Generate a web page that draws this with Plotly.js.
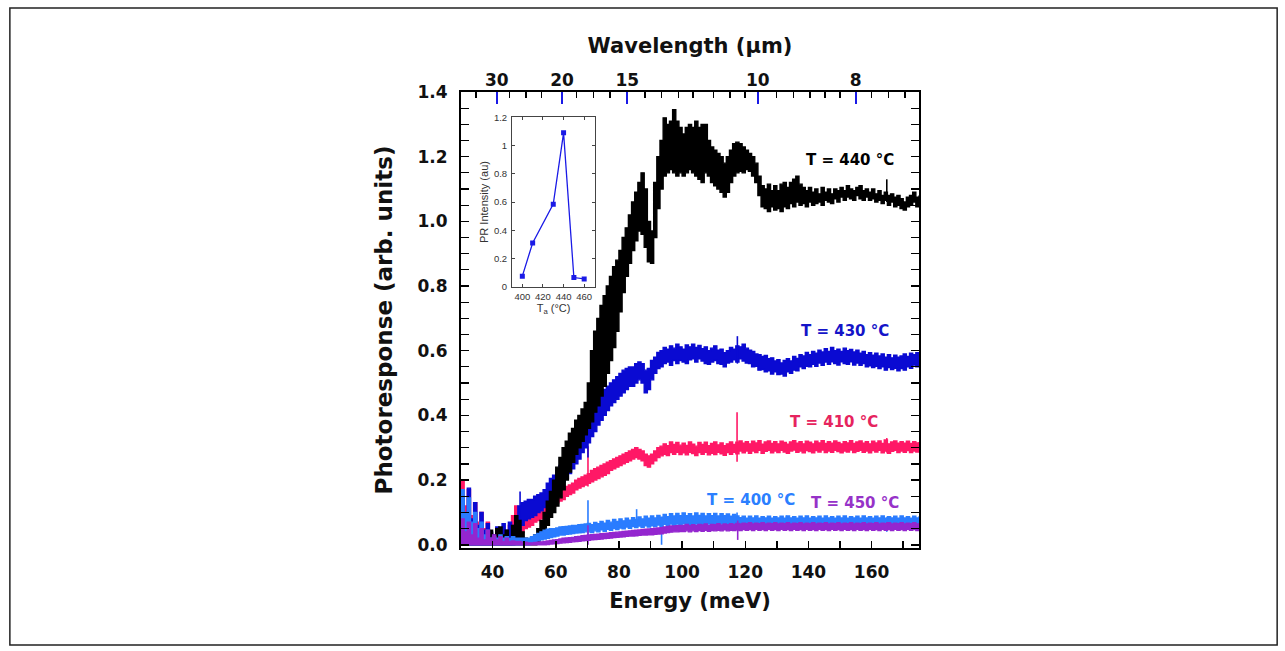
<!DOCTYPE html>
<html>
<head>
<meta charset="utf-8">
<script src="https://cdn.plot.ly/plotly-3.0.1.min.js"></script>
<style>
  html, body { margin: 0; padding: 0; background: #ffffff; }
  #chart { width: 1285px; height: 651px; }
</style>
</head>
<body>
<div id="chart"></div>
<script>
// Photon energy grid (meV), 1 meV steps
const energyStart = 30, energyEnd = 175;
const energy = [];
for (let e = energyStart; e <= energyEnd; e++) energy.push(e);

// Each spectrum is a noisy trace: lower and upper envelope of the noise band

// T = 440 °C
const blackLo = [
  0,0,0,0,0,0,0,0,0,0,
  0,0,0,0,0,0,0,0,0,0,
  0,0,0,0,0.01,0.025,0.04,0.06,0.085,0.1,
  0.12,0.145,0.17,0.2,0.225,0.255,0.28,0.3,0.32,0.34,
  0.36,0.38,0.41,0.43,0.46,0.49,0.53,0.57,0.61,0.66,
  0.72,0.78,0.83,0.87,0.91,0.94,0.97,0.96,0.92,0.875,
  0.87,0.95,1.04,1.1,1.14,1.15,1.16,1.15,1.14,1.15,
  1.14,1.15,1.16,1.15,1.14,1.13,1.12,1.15,1.14,1.12,
  1.11,1.1,1.09,1.075,1.09,1.12,1.14,1.15,1.155,1.15,
  1.16,1.155,1.14,1.12,1.08,1.045,1.04,1.03,1.045,1.035,
  1.04,1.03,1.045,1.04,1.055,1.045,1.06,1.05,1.055,1.045,
  1.06,1.05,1.055,1.06,1.05,1.065,1.06,1.055,1.07,1.06,
  1.075,1.065,1.075,1.07,1.065,1.08,1.07,1.065,1.075,1.065,
  1.07,1.06,1.065,1.055,1.065,1.05,1.06,1.045,1.05,1.04,
  1.035,1.045,1.05,1.06,1.045,1.05
];
const blackHi = [
  0.02,0.03,0.015,0.03,0.02,0.025,0.03,0.02,0.03,0.045,
  0.02,0.05,0.055,0.03,0.045,0.02,0.06,0.09,0.075,0.04,
  0.02,0.015,0.01,0.03,0.05,0.075,0.1,0.135,0.165,0.2,
  0.24,0.27,0.3,0.32,0.345,0.36,0.385,0.4,0.42,0.44,
  0.5,0.6,0.66,0.7,0.74,0.77,0.8,0.83,0.86,0.88,
  0.91,0.95,0.98,1.02,1.06,1.09,1.12,1.15,1.1,1.0,
  0.97,1.12,1.2,1.25,1.32,1.3,1.31,1.345,1.31,1.29,
  1.27,1.29,1.3,1.29,1.31,1.29,1.3,1.3,1.25,1.23,
  1.22,1.21,1.2,1.18,1.2,1.22,1.24,1.245,1.24,1.23,
  1.22,1.21,1.2,1.18,1.14,1.11,1.1,1.115,1.095,1.11,
  1.095,1.115,1.12,1.105,1.12,1.13,1.14,1.115,1.105,1.095,
  1.105,1.09,1.1,1.085,1.105,1.09,1.1,1.085,1.1,1.095,
  1.105,1.095,1.11,1.1,1.095,1.105,1.11,1.095,1.1,1.09,
  1.1,1.085,1.095,1.08,1.09,1.08,1.085,1.075,1.08,1.07,
  1.06,1.075,1.08,1.09,1.075,1.08
];

// T = 430 °C
const blueLo = [
  0,0,0,0,0,0,0,0,0,0,
  0,0,0,0,0,0,0,0.01,0.03,0.06,
  0.075,0.08,0.085,0.09,0.1,0.105,0.115,0.125,0.14,0.155,
  0.17,0.18,0.195,0.205,0.22,0.235,0.25,0.265,0.285,0.3,
  0.315,0.335,0.35,0.37,0.385,0.4,0.415,0.43,0.44,0.45,
  0.46,0.47,0.48,0.49,0.49,0.5,0.51,0.5,0.47,0.48,
  0.51,0.53,0.545,0.55,0.56,0.565,0.555,0.57,0.56,0.57,
  0.565,0.56,0.572,0.575,0.565,0.575,0.568,0.56,0.558,0.565,
  0.57,0.56,0.558,0.55,0.562,0.565,0.572,0.565,0.575,0.568,
  0.562,0.56,0.55,0.552,0.54,0.542,0.535,0.538,0.528,0.535,
  0.526,0.528,0.522,0.535,0.53,0.54,0.538,0.55,0.545,0.552,
  0.55,0.558,0.552,0.562,0.555,0.565,0.558,0.566,0.56,0.556,
  0.566,0.56,0.558,0.566,0.556,0.562,0.555,0.56,0.55,0.553,
  0.548,0.552,0.545,0.55,0.54,0.548,0.542,0.546,0.538,0.545,
  0.54,0.55,0.546,0.556,0.55,0.556
];
const blueHi = [
  0.15,0.09,0.175,0.08,0.13,0.06,0.1,0.045,0.065,0.04,
  0.03,0.055,0.035,0.065,0.045,0.07,0.06,0.09,0.12,0.13,
  0.135,0.14,0.14,0.15,0.155,0.16,0.17,0.19,0.205,0.215,
  0.23,0.245,0.26,0.275,0.29,0.305,0.32,0.335,0.35,0.365,
  0.385,0.4,0.42,0.44,0.465,0.48,0.49,0.5,0.51,0.52,
  0.53,0.54,0.545,0.55,0.55,0.56,0.565,0.56,0.54,0.545,
  0.57,0.58,0.595,0.6,0.61,0.605,0.615,0.608,0.62,0.612,
  0.605,0.618,0.612,0.62,0.61,0.616,0.606,0.612,0.6,0.608,
  0.615,0.602,0.605,0.594,0.6,0.61,0.605,0.615,0.612,0.62,
  0.608,0.602,0.598,0.59,0.588,0.582,0.585,0.575,0.578,0.568,
  0.572,0.562,0.57,0.575,0.568,0.582,0.576,0.588,0.584,0.595,
  0.588,0.598,0.592,0.602,0.596,0.606,0.598,0.61,0.6,0.605,
  0.598,0.608,0.6,0.604,0.596,0.602,0.592,0.598,0.588,0.594,
  0.586,0.592,0.584,0.59,0.58,0.588,0.578,0.586,0.58,0.584,
  0.59,0.582,0.592,0.588,0.594,0.59
];

// T = 410 °C
const pinkLo = [
  0,0,0,0,0,0,0,0,0,0,
  0,0,0,0,0,0,0.01,0.02,0.03,0.04,
  0.05,0.055,0.06,0.07,0.075,0.08,0.09,0.1,0.11,0.12,
  0.13,0.135,0.14,0.15,0.155,0.16,0.17,0.175,0.18,0.185,
  0.19,0.195,0.2,0.205,0.21,0.215,0.22,0.23,0.235,0.24,
  0.245,0.25,0.255,0.26,0.265,0.27,0.265,0.26,0.245,0.24,
  0.25,0.26,0.27,0.275,0.28,0.276,0.285,0.28,0.286,0.279,
  0.284,0.278,0.286,0.282,0.276,0.285,0.28,0.286,0.278,0.283,
  0.279,0.286,0.281,0.277,0.285,0.28,0.286,0.281,0.29,0.284,
  0.29,0.283,0.29,0.285,0.292,0.283,0.289,0.292,0.284,0.29,
  0.285,0.292,0.287,0.283,0.29,0.293,0.286,0.29,0.284,0.291,
  0.288,0.284,0.291,0.287,0.293,0.285,0.29,0.286,0.292,0.288,
  0.284,0.29,0.287,0.293,0.285,0.289,0.292,0.286,0.29,0.284,
  0.291,0.287,0.292,0.284,0.29,0.283,0.289,0.292,0.285,0.29,
  0.286,0.291,0.285,0.29,0.287,0.289
];
const pinkHi = [
  0.2,0.12,0.17,0.09,0.13,0.07,0.1,0.05,0.07,0.035,
  0.03,0.045,0.03,0.045,0.04,0.06,0.09,0.12,0.1,0.09,
  0.1,0.1,0.1,0.105,0.11,0.115,0.125,0.135,0.145,0.15,
  0.16,0.17,0.175,0.18,0.185,0.19,0.2,0.205,0.21,0.215,
  0.22,0.23,0.235,0.24,0.245,0.25,0.255,0.26,0.265,0.27,
  0.275,0.28,0.285,0.29,0.295,0.3,0.295,0.29,0.28,0.275,
  0.28,0.29,0.3,0.305,0.312,0.306,0.318,0.31,0.316,0.308,
  0.314,0.307,0.318,0.311,0.305,0.316,0.31,0.317,0.306,0.313,
  0.318,0.309,0.315,0.306,0.312,0.318,0.31,0.317,0.321,0.314,
  0.319,0.312,0.32,0.315,0.322,0.311,0.318,0.321,0.313,0.319,
  0.312,0.32,0.316,0.311,0.318,0.322,0.314,0.319,0.312,0.32,
  0.317,0.312,0.32,0.315,0.322,0.313,0.319,0.314,0.321,0.316,
  0.312,0.319,0.315,0.322,0.313,0.318,0.321,0.314,0.319,0.312,
  0.32,0.315,0.321,0.313,0.324,0.312,0.318,0.321,0.314,0.319,
  0.314,0.32,0.313,0.319,0.315,0.318
];

// T = 400 °C
const lightBlueLo = [
  0,0,0,0,0,0,0,0,0,0,
  0,0,0,0,0,0,0,0,0,0,
  0,0,0.005,0.01,0.012,0.015,0.018,0.02,0.022,0.025,
  0.027,0.03,0.03,0.032,0.033,0.035,0.036,0.037,0.038,0.04,
  0.04,0.038,0.043,0.04,0.046,0.042,0.048,0.045,0.05,0.047,
  0.052,0.049,0.055,0.051,0.056,0.053,0.058,0.054,0.059,0.055,
  0.059,0.056,0.061,0.057,0.063,0.059,0.064,0.06,0.064,0.059,
  0.065,0.06,0.063,0.058,0.064,0.06,0.063,0.058,0.064,0.06,
  0.063,0.058,0.064,0.06,0.062,0.057,0.063,0.058,0.056,0.059,
  0.054,0.059,0.055,0.06,0.054,0.058,0.055,0.06,0.055,0.058,
  0.054,0.059,0.055,0.06,0.054,0.058,0.055,0.059,0.054,0.06,
  0.055,0.058,0.054,0.06,0.055,0.059,0.054,0.058,0.055,0.06,
  0.054,0.059,0.055,0.058,0.054,0.06,0.055,0.059,0.054,0.058,
  0.055,0.06,0.054,0.059,0.055,0.058,0.054,0.06,0.055,0.059,
  0.054,0.058,0.055,0.06,0.054,0.059
];
const lightBlueHi = [
  0.17,0.1,0.145,0.07,0.1,0.05,0.07,0.03,0.045,0.02,
  0.025,0.02,0.03,0.02,0.025,0.02,0.025,0.02,0.02,0.02,
  0.02,0.02,0.025,0.03,0.035,0.04,0.045,0.048,0.05,0.05,
  0.052,0.055,0.056,0.057,0.058,0.06,0.06,0.062,0.063,0.064,
  0.066,0.062,0.069,0.065,0.072,0.067,0.075,0.07,0.078,0.072,
  0.08,0.074,0.082,0.076,0.084,0.078,0.086,0.08,0.088,0.082,
  0.089,0.083,0.091,0.085,0.094,0.087,0.096,0.089,0.097,0.09,
  0.098,0.09,0.096,0.089,0.098,0.091,0.097,0.089,0.096,0.09,
  0.097,0.089,0.096,0.09,0.095,0.088,0.094,0.089,0.084,0.088,
  0.082,0.088,0.083,0.089,0.082,0.087,0.083,0.088,0.082,0.087,
  0.083,0.088,0.082,0.089,0.083,0.087,0.082,0.088,0.083,0.089,
  0.082,0.087,0.083,0.088,0.082,0.089,0.083,0.087,0.082,0.088,
  0.083,0.089,0.082,0.087,0.083,0.088,0.082,0.089,0.083,0.087,
  0.082,0.088,0.083,0.089,0.082,0.087,0.083,0.088,0.082,0.089,
  0.083,0.087,0.082,0.088,0.083,0.088
];

// T = 450 °C
const purpleLo = [
  0,0,0,0,0,0,0,0,0,0,
  0,0,0,0,0,0,0,0,0,0,
  0,0,0,0,0,0,0,0.001,0.002,0.003,
  0.004,0.005,0.006,0.007,0.008,0.009,0.01,0.011,0.012,0.013,
  0.014,0.015,0.016,0.017,0.018,0.019,0.02,0.021,0.022,0.023,
  0.024,0.025,0.026,0.027,0.027,0.028,0.029,0.03,0.03,0.031,
  0.031,0.032,0.033,0.034,0.036,0.038,0.039,0.04,0.04,0.041,
  0.041,0.043,0.04,0.043,0.041,0.044,0.042,0.045,0.042,0.044,
  0.043,0.045,0.043,0.046,0.043,0.045,0.044,0.046,0.044,0.047,
  0.045,0.047,0.044,0.048,0.045,0.047,0.044,0.048,0.045,0.047,
  0.044,0.048,0.045,0.047,0.044,0.048,0.045,0.047,0.044,0.048,
  0.045,0.047,0.044,0.048,0.045,0.047,0.044,0.048,0.045,0.047,
  0.044,0.048,0.045,0.047,0.044,0.048,0.045,0.047,0.044,0.048,
  0.045,0.047,0.044,0.048,0.045,0.047,0.044,0.048,0.045,0.047,
  0.044,0.048,0.045,0.047,0.044,0.047
];
const purpleHi = [
  0.08,0.04,0.07,0.03,0.065,0.02,0.05,0.015,0.045,0.02,
  0.03,0.015,0.025,0.01,0.02,0.01,0.012,0.01,0.01,0.008,
  0.008,0.006,0.006,0.007,0.008,0.009,0.01,0.012,0.013,0.015,
  0.016,0.018,0.02,0.021,0.022,0.023,0.025,0.026,0.028,0.029,
  0.03,0.031,0.032,0.033,0.034,0.035,0.036,0.037,0.038,0.039,
  0.04,0.041,0.042,0.043,0.044,0.045,0.046,0.047,0.048,0.049,
  0.05,0.051,0.052,0.053,0.055,0.057,0.058,0.058,0.059,0.06,
  0.06,0.063,0.059,0.062,0.06,0.063,0.061,0.064,0.06,0.063,
  0.062,0.065,0.061,0.064,0.062,0.065,0.063,0.066,0.064,0.067,
  0.065,0.068,0.064,0.067,0.065,0.068,0.064,0.067,0.065,0.068,
  0.064,0.067,0.065,0.068,0.064,0.067,0.065,0.068,0.064,0.067,
  0.065,0.068,0.064,0.067,0.065,0.068,0.064,0.067,0.065,0.068,
  0.064,0.067,0.065,0.068,0.064,0.067,0.065,0.068,0.064,0.067,
  0.065,0.068,0.064,0.067,0.065,0.068,0.064,0.067,0.065,0.068,
  0.064,0.067,0.065,0.068,0.064,0.067
];

// Sharp glitches: energy, lowest and highest excursion
const blackSpikeE = [164.8],                 blackSpikeLo = [1.06],              blackSpikeHi = [1.13];
const blueSpikeE = [48.7, 70.2, 117.5],      blueSpikeLo = [0.05, 0.27, 0.56],   blueSpikeHi = [0.165, 0.4, 0.645];
const pinkSpikeE = [47.2, 70.2, 117.4, 164.8], pinkSpikeLo = [0, 0.18, 0.257, 0.285], pinkSpikeHi = [0.12, 0.305, 0.41, 0.33];
const lightBlueSpikeE = [70.2, 85.6, 93.5, 117.4, 133, 164.8];
const lightBlueSpikeLo = [0.02, 0.06, 0.0, 0.05, 0.05, 0.04];
const lightBlueSpikeHi = [0.138, 0.11, 0.07, 0.1, 0.09, 0.085];
const purpleSpikeE = [70.2, 117.6, 164.8],   purpleSpikeLo = [0, 0.015, 0.045],  purpleSpikeHi = [0.06, 0.075, 0.07];

// Curve labels: text, position (meV, arb. units)
const labelText = ['T = 440 °C', 'T = 430 °C', 'T = 410 °C', 'T = 400 °C', 'T = 450 °C'];
const labelE = [153.1, 151.6, 148.1, 121.8, 154.7];
const labelV = [1.19, 0.661, 0.38, 0.138, 0.129];

// Wavelength axis (µm) and the extra unlabeled ticks on the top edge (meV)
const wavelengthTicks = [30, 20, 15, 10, 8];
const topMinorTicks = [34.7, 45.3, 50.6, 55.5, 66.6, 71.9, 77.2, 88.2, 93.5, 98.8, 103.5, 109.9, 115.2, 119.9, 129.9, 135.2, 140.5, 145.2, 150, 160, 165.3, 170.6];

// Inset: peak photoresponse versus annealing temperature
const annealT = [400, 410, 430, 440, 450, 460];
const prIntensity = [0.075, 0.31, 0.585, 1.09, 0.065, 0.055];

// ---------- drawing ----------
const FONT = 'DejaVu Sans';
const C_BLACK = '#000000', C_BLUE = '#0a0ad2', C_PINK = '#ff1866', C_LBLUE = '#2a7cff', C_PURPLE = '#9426cf';

function band(lo, hi, color) {
  const ln = { color: color, width: 1.4, shape: 'hv' };
  return [
    { x: energy, y: lo, type: 'scatter', mode: 'lines', line: ln, hoverinfo: 'skip', showlegend: false },
    { x: energy, y: hi, type: 'scatter', mode: 'lines', line: ln, fill: 'tonexty', fillcolor: color, hoverinfo: 'skip', showlegend: false }
  ];
}
function spikes(es, los, his, color) {
  const x = [], y = [];
  es.forEach((e, i) => { x.push(e, e, null); y.push(los[i], his[i], null); });
  return { x: x, y: y, type: 'scatter', mode: 'lines', line: { color: color, width: 1.6 }, hoverinfo: 'skip', showlegend: false, connectgaps: false };
}

const traces = [].concat(
  band(pinkLo, pinkHi, C_PINK), [spikes(pinkSpikeE, pinkSpikeLo, pinkSpikeHi, C_PINK)],
  band(blueLo, blueHi, C_BLUE), [spikes(blueSpikeE, blueSpikeLo, blueSpikeHi, C_BLUE)],
  band(blackLo, blackHi, C_BLACK), [spikes(blackSpikeE, blackSpikeLo, blackSpikeHi, C_BLACK)],
  band(lightBlueLo, lightBlueHi, C_LBLUE), [spikes(lightBlueSpikeE, lightBlueSpikeLo, lightBlueSpikeHi, C_LBLUE)],
  band(purpleLo, purpleHi, C_PURPLE), [spikes(purpleSpikeE, purpleSpikeLo, purpleSpikeHi, C_PURPLE)]
);

// placeholders so the top axes are laid out
traces.push({ x: [], y: [], xaxis: 'x4', yaxis: 'y', type: 'scatter', showlegend: false });
traces.push({ x: [], y: [], xaxis: 'x2', yaxis: 'y', type: 'scatter', showlegend: false });

// inset trace
traces.push({
  x: annealT, y: prIntensity, xaxis: 'x3', yaxis: 'y3', type: 'scatter', mode: 'lines+markers',
  line: { color: '#1a1ae6', width: 1.3 }, marker: { symbol: 'square', size: 5, color: '#1a1ae6' },
  showlegend: false, hoverinfo: 'skip'
});

const labelColors = ['#000000', '#1414c8', '#e6245e', '#2b7fff', '#9632c8'];
const annotations = labelText.map((t, i) => ({
  x: labelE[i], y: labelV[i], xref: 'x', yref: 'y', text: t, showarrow: false,
  font: { family: FONT, size: 15, weight: 'bold', color: labelColors[i] }
}));

const tickFont = { family: FONT, size: 17, weight: 'bold', color: '#111' };
const insetFont = { family: 'Liberation Sans', size: 9.5, color: '#333' };

const layout = {
  width: 1285, height: 651,
  margin: { l: 461, r: 366, t: 92, b: 103, pad: 0 },
  paper_bgcolor: '#ffffff', plot_bgcolor: '#ffffff',
  showlegend: false,
  xaxis: {
    range: [30, 175], showgrid: false, zeroline: false,
    showline: true, linewidth: 2, linecolor: '#000', mirror: true,
    ticks: 'inside', ticklen: 7, tickwidth: 1.5, tickcolor: '#000',
    tick0: 0, dtick: 20,
    minor: { dtick: 10, ticks: 'inside', ticklen: 7, tickwidth: 1.5, tickcolor: '#000' },
    tickfont: tickFont, ticklabelstandoff: 8,
    title: { text: 'Energy (meV)', font: { family: FONT, size: 21, weight: 'bold', color: '#111' }, standoff: 12 }
  },
  yaxis: {
    range: [-0.01, 1.4], showgrid: false, zeroline: false,
    showline: true, linewidth: 2, linecolor: '#000', mirror: 'allticks',
    ticks: 'inside', ticklen: 8, tickwidth: 1.5, tickcolor: '#000',
    tick0: 0, dtick: 0.2, tickformat: '.1f',
    minor: { dtick: 0.05, ticks: 'inside', ticklen: 5, tickwidth: 1.2, tickcolor: '#000' },
    tickfont: tickFont, ticklabelstandoff: 8,
    title: { text: 'Photoresponse (arb. units)', font: { family: FONT, size: 23, weight: 'bold', color: '#111' }, standoff: 18 }
  },
  xaxis4: {
    overlaying: 'x', side: 'top', anchor: 'y', range: [30, 175],
    showgrid: false, zeroline: false, showline: false,
    tickmode: 'array', tickvals: topMinorTicks, ticks: 'inside', ticklen: 6, tickwidth: 1.5, tickcolor: '#000',
    showticklabels: false
  },
  xaxis2: {
    overlaying: 'x', side: 'top', anchor: 'y', range: [30, 175],
    showgrid: false, zeroline: false, showline: false,
    tickmode: 'array',
    tickvals: wavelengthTicks.map(w => 1239.84 / w),
    ticktext: wavelengthTicks.map(String),
    ticks: 'inside', ticklen: 12, tickwidth: 2.2, tickcolor: '#1a1ae6',
    tickfont: tickFont, ticklabelstandoff: 2,
    title: { text: 'Wavelength (µm)', font: { family: FONT, size: 21, weight: 'bold', color: '#111' }, standoff: 10 }
  },
  xaxis3: {
    domain: [0.1114, 0.2926], anchor: 'y3', range: [390, 470.5],
    showgrid: false, zeroline: false, showline: true, linewidth: 1, linecolor: '#444', mirror: 'allticks',
    ticks: 'inside', ticklen: 3, tickwidth: 1, tickcolor: '#444',
    tickvals: [400, 420, 440, 460], tickfont: insetFont, ticklabelstandoff: 1,
    title: { text: 'T<sub>a</sub> (°C)', font: { family: 'Liberation Sans', size: 11, color: '#333' }, standoff: 2 }
  },
  yaxis3: {
    domain: [0.573, 0.9445], anchor: 'x3', range: [0, 1.2],
    showgrid: false, zeroline: false, showline: true, linewidth: 1, linecolor: '#444', mirror: 'allticks',
    ticks: 'inside', ticklen: 3, tickwidth: 1, tickcolor: '#444',
    dtick: 0.2, tickfont: insetFont, ticklabelstandoff: 2,
    title: { text: 'PR Intensity (au)', font: { family: 'Liberation Sans', size: 11, color: '#333' }, standoff: 3 }
  },
  annotations: annotations,
  shapes: [{
    type: 'rect', xref: 'paper', yref: 'paper',
    x0: -0.985, x1: 1.782, y0: -0.2127, y1: 1.184,
    line: { color: '#222', width: 1.5 }, layer: 'below'
  }]
};

Plotly.newPlot('chart', traces, layout, { staticPlot: true, displayModeBar: false });
</script>
</body>
</html>
